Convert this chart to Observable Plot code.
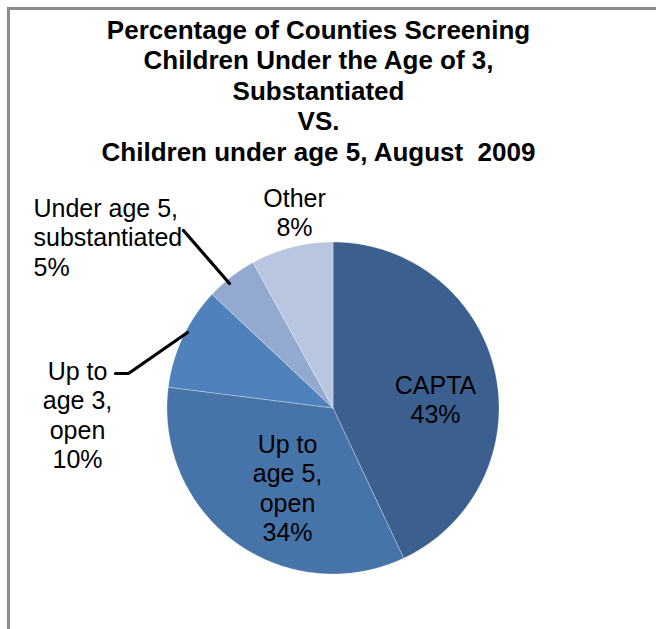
<!DOCTYPE html>
<html>
<head>
<meta charset="utf-8">
<script src="https://cdn.jsdelivr.net/npm/d3@7"></script>
<script src="https://cdn.jsdelivr.net/npm/@observablehq/plot@0.6"></script>
<style>
  html, body { margin: 0; padding: 0; background: #fff; overflow: hidden; }
  #wrap { position: relative; width: 656px; height: 629px; }
  #frame { position: absolute; left: 7px; top: 7px; width: 700px; height: 700px;
           border-left: 3px solid #8c8c8c; border-top: 3px solid #8c8c8c; pointer-events: none; }
  #chart { position: absolute; left: 0; top: 0; }
</style>
</head>
<body>
<div id="wrap"><div id="chart"></div><div id="frame"></div></div>
<script>
// ---- data ----
const categories = ["CAPTA", "Up to age 5, open", "Up to age 3, open", "Under age 5, substantiated", "Other"];
const values = [43, 34, 10, 5, 8];
const labelLines = [
  ["CAPTA", "43%"],
  ["Up to", "age 5,", "open", "34%"],
  ["Up to", "age 3,", "open", "10%"],
  ["Under age 5,", "substantiated", "5%"],
  ["Other", "8%"]
];
const titleLines = [
  "Percentage of Counties Screening",
  "Children Under the Age of 3,",
  "Substantiated",
  "VS.",
  "Children under age 5, August  2009"
];

// ---- layout / style ----
const W = 656, H = 629;
const colors = ["#3B6090", "#4673A8", "#4F81BD", "#94A9CF", "#B9C6E0"];
const pie = {cx: 332.5, cy: 407.5, r: 166};
const titleLayout = {x: 318, y0: 38, step: 30.5, size: 26};
const labelLayout = [
  {x: 435, y0: 393, anchor: "middle"},
  {x: 287, y0: 452, anchor: "middle"},
  {x: 77, y0: 379, anchor: "middle"},
  {x: 33, y0: 216, anchor: "start"},
  {x: 294, y0: 206, anchor: "middle"}
];
const labelStep = 29.5, labelSize = 25;
const leaders = [
  {slice: 3, pts: [[183, 230], [229, 283]]},
  {slice: 2, pts: [[115, 373], [128, 373], [187, 332]]}
];

// ---- build slices from the values ----
const arcs = d3.pie().sort(null).value(d => d)(values);
const slicePts = [];
arcs.forEach((a, i) => {
  const cat = categories[i];
  slicePts.push({cat, x: pie.cx, y: pie.cy});
  const n = Math.max(2, Math.ceil((a.endAngle - a.startAngle) / 0.01));
  for (let k = 0; k <= n; k++) {
    const t = a.startAngle + (a.endAngle - a.startAngle) * k / n;
    slicePts.push({cat, x: pie.cx + pie.r * Math.sin(t), y: pie.cy - pie.r * Math.cos(t)});
  }
  slicePts.push({cat, x: pie.cx, y: pie.cy});
});

const titleData = titleLines.map((t, i) => ({text: t, x: titleLayout.x, y: titleLayout.y0 + i * titleLayout.step}));
const labelData = [];
labelLines.forEach((lines, i) => {
  const L = labelLayout[i];
  lines.forEach((t, j) => labelData.push({text: t, x: L.x, y: L.y0 + j * labelStep, anchor: L.anchor}));
});
const leaderData = [];
leaders.forEach((l, i) => l.pts.forEach(p => leaderData.push({id: i, x: p[0], y: p[1]})));

const font = "'Liberation Sans', Arial, Helvetica, sans-serif";

const chart = Plot.plot({
  width: W, height: H,
  margin: 0,
  x: {domain: [0, W], range: [0, W], axis: null},
  y: {domain: [0, H], range: [0, H], axis: null},
  color: {domain: categories, range: colors},
  style: {fontFamily: font, background: "transparent"},
  marks: [
    Plot.line(slicePts, {x: "x", y: "y", z: "cat", fill: "cat", stroke: "#ffffff", strokeWidth: 0.6, strokeOpacity: 0.5, curve: "linear"}),
    Plot.line(leaderData, {x: "x", y: "y", z: "id", stroke: "#000", strokeWidth: 3.2, strokeLinejoin: "miter"}),
    Plot.text(titleData, {x: "x", y: "y", text: "text", fontSize: titleLayout.size, fontWeight: "bold", fill: "#000", lineAnchor: "bottom", textAnchor: "middle"}),
    Plot.text(labelData.filter(d => d.anchor === "middle"), {x: "x", y: "y", text: "text", fontSize: labelSize, fill: "#000", lineAnchor: "bottom", textAnchor: "middle"}),
    Plot.text(labelData.filter(d => d.anchor === "start"), {x: "x", y: "y", text: "text", fontSize: labelSize, fill: "#000", lineAnchor: "bottom", textAnchor: "start"})
  ]
});
document.getElementById("chart").appendChild(chart);
</script>
</body>
</html>
